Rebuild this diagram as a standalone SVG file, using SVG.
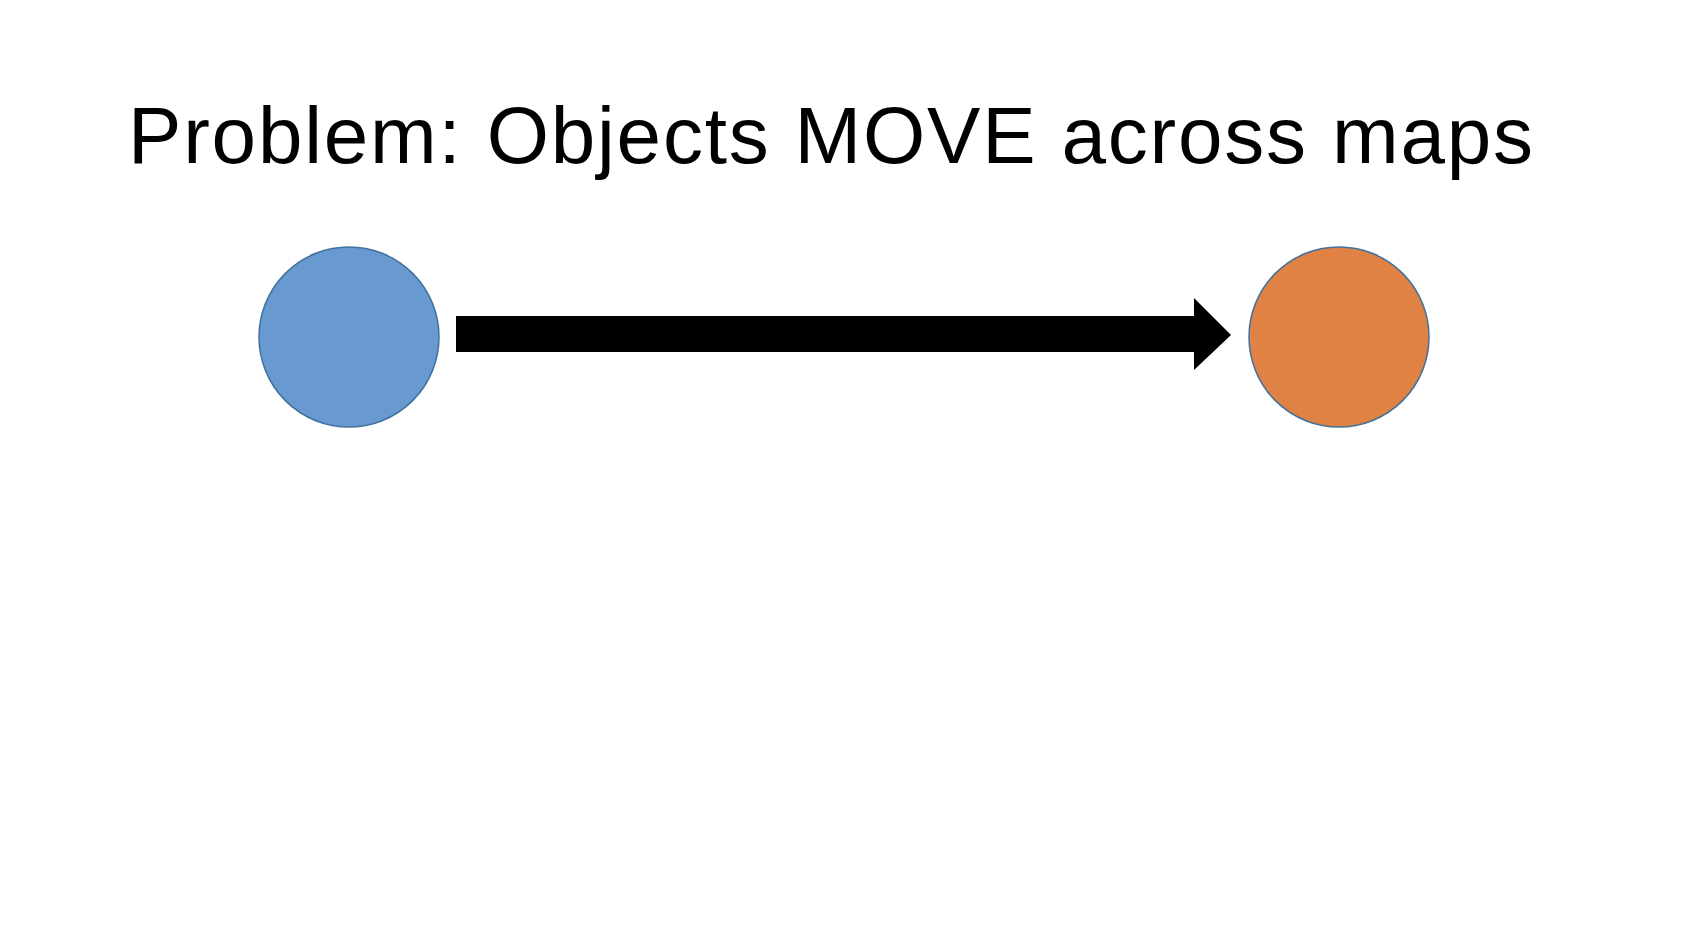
<svg xmlns="http://www.w3.org/2000/svg" width="1698" height="946" viewBox="0 0 1698 946">
<style>
.title{font-family:"Liberation Sans",Arial,sans-serif;font-size:80px;fill:#000}
.node{stroke:#41719c;stroke-width:1.5}
</style>
<rect x="0" y="0" width="1698" height="946" fill="#ffffff"/>
<text class="title" x="128" y="163" textLength="1405" lengthAdjust="spacing">Problem: Objects MOVE across maps</text>
<g id="node-blue"><circle class="node" cx="349" cy="337" r="90" fill="#6899d0"/></g>
<g id="node-orange"><circle class="node" cx="1339" cy="337" r="90" fill="#df8244"/></g>
<g id="connectors">
<polygon points="456,316 1194,316 1194,298 1231,335 1194,370 1194,352 456,352" fill="#000"/>
</g>
</svg>
